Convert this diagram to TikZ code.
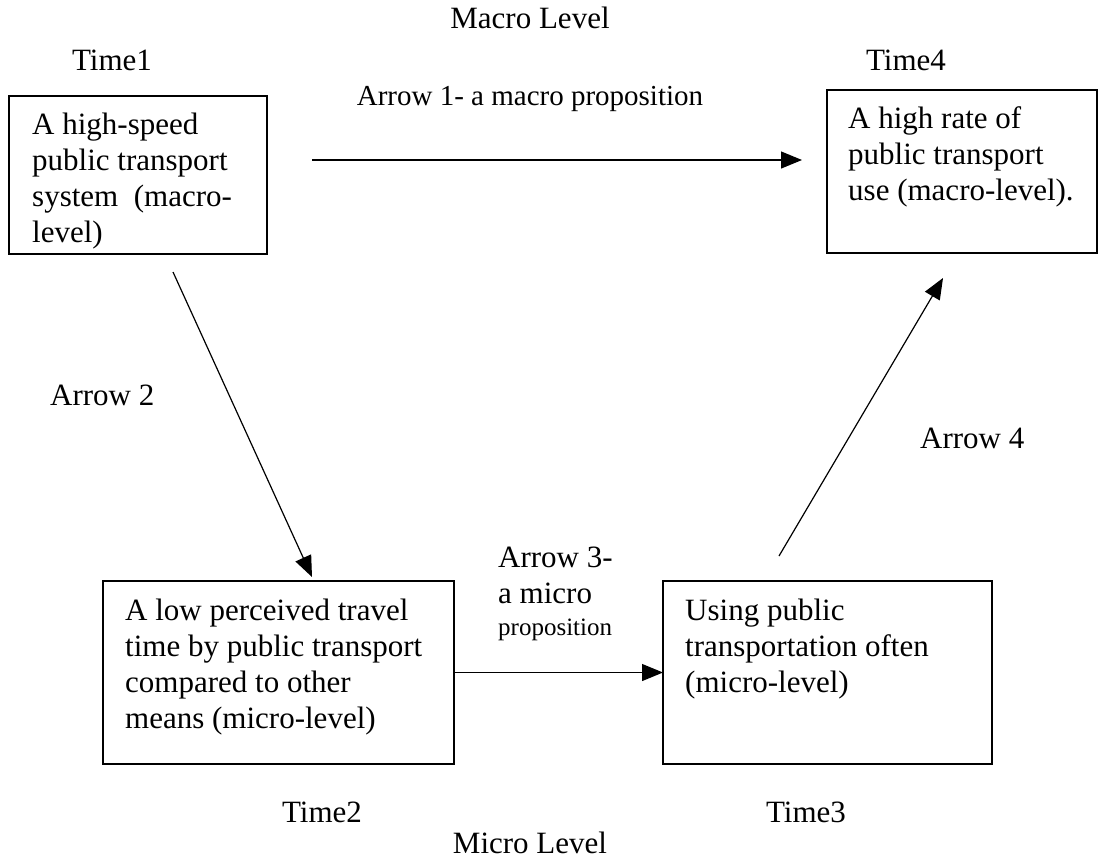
\documentclass[tikz,border=0pt]{standalone}
\usepackage{fontspec}
\setmainfont{Liberation Serif}
\usetikzlibrary{arrows.meta}

\tikzset{
  box/.style={draw, line width=1.4pt, inner sep=0pt, outer sep=0pt, anchor=north west},
  boxtext/.style={anchor=base west, inner sep=0pt, font=\fontsize{31}{36}\selectfont},
  lbl/.style={inner sep=0pt, font=\fontsize{31}{36}\selectfont},
  conn/.style={line width=1.2pt, -{Triangle[length=21pt,width=17pt]}}
}

\begin{document}
\begin{tikzpicture}[x=1pt,y=-1pt]
  \useasboundingbox (0,0) rectangle (1100,860);

  % level and time labels
  \node[lbl, anchor=base] (macro) at (530,28) {Macro Level};
  \node[lbl, anchor=base] (time1) at (112,70) {Time1};
  \node[lbl, anchor=base] (time4) at (906,70) {Time4};
  \node[lbl, anchor=base] (time2) at (322,822) {Time2};
  \node[lbl, anchor=base] (time3) at (806,822) {Time3};
  \node[lbl, anchor=base] (micro) at (530,853) {Micro Level};

  % boxes
  \node[box, minimum width=258pt, minimum height=158pt] (b1) at (9,96) {};
  \node[box, minimum width=270pt, minimum height=163pt] (b4) at (827,90) {};
  \node[box, minimum width=351pt, minimum height=183pt] (b2) at (103,581) {};
  \node[box, minimum width=329pt, minimum height=183pt] (b3) at (663,581) {};

  % box contents
  \node[boxtext] (t1) at (32,134) {\parbox[t]{240pt}{A high-speed\\public transport\\system\ \ (macro-\\level)}};
  \node[boxtext] (t4) at (848,128) {\parbox[t]{250pt}{A high rate of\\public transport\\use (macro-level).}};
  \node[boxtext] (t2) at (125,620) {\parbox[t]{330pt}{A low perceived travel\\time by public transport\\compared to other\\means (micro-level)}};
  \node[boxtext] (t3) at (685,620) {\parbox[t]{300pt}{Using public\\transportation often\\(micro-level)}};

  % connector end points
  \coordinate (a1s) at (312,160);
  \coordinate (a1e) at (802,160);
  \coordinate (a2s) at (173,272);
  \coordinate (a2e) at (312,577);
  \coordinate (a4s) at (779,556);
  \coordinate (a4e) at (943,278);

  % connectors
  \draw[conn] (a1s) -- (a1e);
  \draw[conn] (a2s) -- (a2e);
  \draw[conn] (b2.east) -- (b3.west);
  \draw[conn] (a4s) -- (a4e);

  % connector labels
  \node[lbl, anchor=base, font=\fontsize{29}{34}\selectfont] (l1) at (530,105) {Arrow 1- a macro proposition};
  \node[lbl, anchor=base west] (l2) at (50,405) {Arrow 2};
  \node[lbl, anchor=base west] (l3) at (498,567) {\parbox[t]{200pt}{Arrow 3-\\a micro\\[-4pt]{\fontsize{25}{29}\selectfont proposition}}};
  \node[lbl, anchor=base west] (l4) at (920,448) {Arrow 4};
\end{tikzpicture}
\end{document}
